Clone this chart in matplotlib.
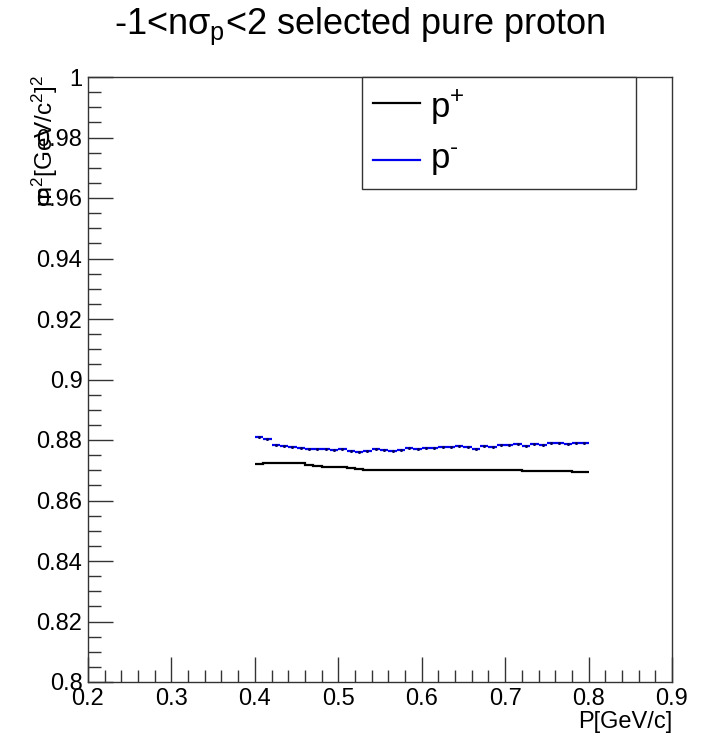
import numpy as np
import matplotlib
matplotlib.use("Agg")
import matplotlib.pyplot as plt
from matplotlib.patches import Rectangle
from matplotlib.ticker import MultipleLocator, FixedLocator

plt.rcParams['font.family'] = ['Liberation Sans', 'DejaVu Sans']
plt.rcParams['mathtext.fontset'] = 'custom'
plt.rcParams['mathtext.rm'] = 'Liberation Sans'
plt.rcParams['mathtext.it'] = 'Liberation Sans:italic'

# ---- data (histogram bins 0.40 - 0.80, width 0.01) ----
bin_edges = np.round(np.arange(0.40, 0.8001, 0.01), 3)
p_plus = [0.8721, 0.8723, 0.8725, 0.8725, 0.8725, 0.8723, 0.8717, 0.8714, 0.8712, 0.8710,
          0.8710, 0.8706, 0.8705, 0.8702, 0.8701, 0.8701, 0.8700, 0.8700, 0.8701, 0.8700,
          0.8700, 0.8701, 0.8700, 0.8701, 0.8700, 0.8701, 0.8701, 0.8700, 0.8701, 0.8701,
          0.8700, 0.8700, 0.8699, 0.8699, 0.8699, 0.8697, 0.8697, 0.8696, 0.8695, 0.8694]
p_minus = [0.8811, 0.8802, 0.8783, 0.8780, 0.8776, 0.8772, 0.8769, 0.8770, 0.8769, 0.8767,
           0.8770, 0.8765, 0.8761, 0.8765, 0.8769, 0.8767, 0.8764, 0.8767, 0.8772, 0.8769,
           0.8774, 0.8772, 0.8776, 0.8778, 0.8780, 0.8778, 0.8770, 0.8780, 0.8776, 0.8783,
           0.8783, 0.8787, 0.8780, 0.8787, 0.8782, 0.8791, 0.8789, 0.8788, 0.8789, 0.8789]
x_ticks = [0.2, 0.3, 0.4, 0.5, 0.6, 0.7, 0.8, 0.9]
x_tick_labels = ["0.2", "0.3", "0.4", "0.5", "0.6", "0.7", "0.8", "0.9"]
y_ticks = [0.80, 0.82, 0.84, 0.86, 0.88, 0.90, 0.92, 0.94, 0.96, 0.98, 1.00]
y_tick_labels = ["0.8", "0.82", "0.84", "0.86", "0.88", "0.9", "0.92", "0.94", "0.96", "0.98", "1"]
legend_labels = ["p$^{+}$", "p$^{\\text{-}}$"]
title = "-1<nσ$_{\\mathrm{p}}$<2 selected pure proton"

W, H = 717, 737
fig = plt.figure(figsize=(W / 100, H / 100), dpi=100)
ax = fig.add_axes([88 / W, 1 - 682 / H, (672 - 88) / W, (682 - 77) / H])

# black: continuous step histogram
ax.stairs(p_plus, bin_edges, baseline=None, color='black', lw=1.6)
# blue: horizontal bin segments (error-style drawing)
ax.hlines(p_minus, bin_edges[:-1], bin_edges[1:], color='#0000ee', lw=1.6)
ax.plot((bin_edges[:-1] + bin_edges[1:]) / 2, p_minus, ls='none', marker='o', ms=1.2,
        color='#000066')

ax.set_xlim(0.2, 0.9)
ax.set_ylim(0.8, 1.0)
ax.xaxis.set_major_locator(FixedLocator(x_ticks))
ax.set_xticklabels(x_tick_labels)
ax.yaxis.set_major_locator(FixedLocator(y_ticks))
ax.set_yticklabels(y_tick_labels)
ax.xaxis.set_minor_locator(MultipleLocator(0.02))
ax.yaxis.set_minor_locator(MultipleLocator(0.005))
ax.tick_params(axis='both', which='major', direction='in', length=18, width=1,
               labelsize=17, color='#333333')
ax.tick_params(axis='both', which='minor', direction='in', length=9, width=1,
               color='#333333')
ax.tick_params(axis='x', pad=4)
ax.tick_params(axis='y', pad=4)
for s in ax.spines.values():
    s.set_color('#333333')
    s.set_linewidth(1)

# title
fig.text(360 / W, 1 - 34 / H, title, ha='center', va='baseline', fontsize=26)
# axis titles
fig.text(672 / W, 1 - 728 / H, "P[GeV/c]", ha='right', va='baseline', fontsize=17)
fig.text(45 / W, 1 - 74 / H, "m$^{2}$[GeV/c$^{2}$]$^{2}$", ha='center', va='top',
         rotation=90, fontsize=17.5)

# legend box
lx0, lx1 = (362 - 88) / 584, (636 - 88) / 584
ly0, ly1 = (682 - 189) / 605, (682 - 77) / 605
ax.add_patch(Rectangle((lx0, ly0), lx1 - lx0, ly1 - ly0, transform=ax.transAxes,
                       fill=True, facecolor='white', edgecolor='#333333', lw=1,
                       clip_on=False, zorder=5))
colors = ['black', '#0000ee']
line_rows = [(682 - 103) / 605, (682 - 160) / 605]
text_rows = [(682 - 118) / 605, (682 - 168) / 605]
for lab, c, yl, yt in zip(legend_labels, colors, line_rows, text_rows):
    ax.plot([(373 - 88) / 584, (420 - 88) / 584], [yl, yl], color=c, lw=1.6,
            transform=ax.transAxes, clip_on=False, zorder=6)
    ax.text((430 - 88) / 584, yt, lab, transform=ax.transAxes, ha='left',
            va='baseline', fontsize=25, zorder=6)

fig.savefig("out.png", dpi=100)
